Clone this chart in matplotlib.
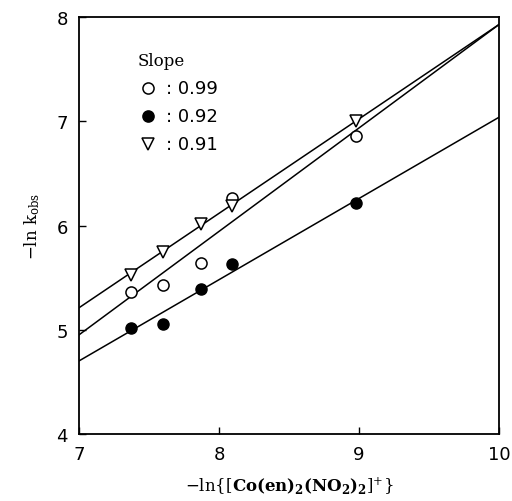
import matplotlib
matplotlib.use("Agg")
import matplotlib.pyplot as plt
import numpy as np

plt.rcParams["mathtext.fontset"] = "dejavuserif"

# data
x_vals = [7.37, 7.60, 7.87, 8.09, 8.98]
y_open = [5.36, 5.43, 5.64, 6.26, 6.86]
y_filled = [5.02, 5.06, 5.39, 5.63, 6.22]
y_tri = [5.53, 5.75, 6.01, 6.19, 7.00]

# fitted lines, y at x = 7 and x = 10
line_x = [7, 10]
line_open = [4.95, 7.93]
line_filled = [4.70, 7.04]
line_tri = [5.21, 7.93]

slopes = ["0.99", "0.92", "0.91"]

fig = plt.figure(figsize=(5.12, 5.02), dpi=100)
ax = fig.add_axes([0.154, 0.1335, 0.821, 0.8305])

for ly in (line_open, line_filled, line_tri):
    ax.plot(line_x, ly, color="black", lw=1.1)

ax.plot(x_vals, y_open, "o", ms=8, mfc="white", mec="black", mew=1.1)
ax.plot(x_vals, y_filled, "o", ms=8, mfc="black", mec="black")
ax.plot(x_vals, y_tri, "v", ms=8.5, mfc="white", mec="black", mew=1.1)

ax.set_xlim(7, 10)
ax.set_ylim(4, 8)
ax.set_xticks([7, 8, 9, 10])
ax.set_yticks([4, 5, 6, 7, 8])
ax.tick_params(direction="in", length=5, width=1, labelsize=13, pad=8)
for s in ax.spines.values():
    s.set_linewidth(1.3)

# legend drawn by hand
ax.text(7.42, 7.58, "Slope", fontsize=12, family="DejaVu Serif", va="center")
mk = [dict(marker="o", mfc="white"), dict(marker="o", mfc="black"), dict(marker="v", mfc="white")]
rows = [7.32, 7.05, 6.78]
for yy, m, s in zip(rows, mk, slopes):
    ax.plot([7.49], [yy], ls="none", ms=8, mec="black", mew=1.1, **m)
    ax.text(7.62, yy, ": " + s, fontsize=13, va="center")

ax.set_xlabel(r"$-\mathrm{ln}\{[\mathbf{Co(en)_2(NO_2)_2}]^{+}\}$", fontsize=12, labelpad=8)
ax.set_ylabel(r"$-\mathrm{ln}\ \mathrm{k_{obs}}$", fontsize=12, labelpad=10)

fig.savefig("out.png", dpi=100)
